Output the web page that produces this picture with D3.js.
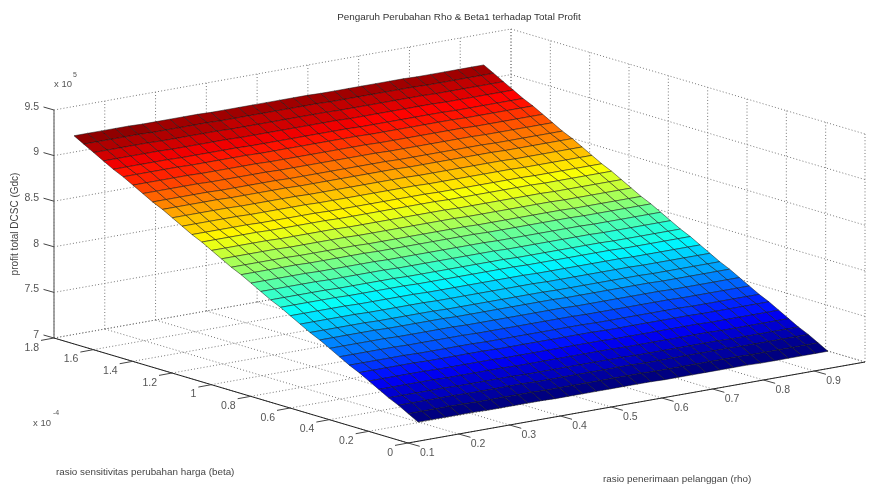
<!DOCTYPE html>
<html>
<head>
<meta charset="utf-8">
<script src="https://cdnjs.cloudflare.com/ajax/libs/d3/7.8.5/d3.min.js"></script>
<style>
  body { margin: 0; background: #fff; }
  svg { filter: blur(0.3px); }
  text { font-family: "Liberation Sans", Arial, sans-serif; }
</style>
</head>
<body>
<svg id="svg" width="875" height="484"></svg>
<script>
// axis ticks
const rhoTicks = [0.1, 0.2, 0.3, 0.4, 0.5, 0.6, 0.7, 0.8, 0.9];
const rhoGrid = [0.1, 0.2, 0.3, 0.4, 0.5, 0.6, 0.7, 0.8, 0.9, 1];
const betaTicks = [0, 0.2, 0.4, 0.6, 0.8, 1, 1.2, 1.4, 1.6, 1.8];
const profitTicks = [7, 7.5, 8, 8.5, 9, 9.5];

// surface. beta in 1e-4, profit in 1e5
const rhoValues = [
  0.12, 0.147, 0.174, 0.201, 0.228, 0.255, 0.282, 0.309, 0.336, 0.363, 0.39,
  0.417, 0.444, 0.471, 0.498, 0.525, 0.552, 0.579, 0.606, 0.633, 0.66, 0.687,
  0.714, 0.741, 0.768, 0.795, 0.822, 0.849, 0.876, 0.903, 0.927,
];
const betaValues = [
  0, 0.05, 0.1, 0.15, 0.2, 0.25, 0.3, 0.35, 0.4, 0.45, 0.5, 0.55, 0.6, 0.65,
  0.7, 0.75, 0.8, 0.85, 0.9, 0.95, 1, 1.05, 1.1, 1.15, 1.2, 1.25, 1.3, 1.35,
  1.4, 1.45, 1.5, 1.55, 1.6, 1.65, 1.7, 1.75,
];
const profitByBeta = [
  7.21, 7.27, 7.33, 7.38, 7.44, 7.5, 7.56, 7.61, 7.67, 7.73, 7.79, 7.84, 7.9,
  7.96, 8.02, 8.07, 8.13, 8.19, 8.25, 8.3, 8.36, 8.42, 8.48, 8.53, 8.59, 8.65,
  8.71, 8.76, 8.82, 8.88, 8.94, 8.99, 9.05, 9.11, 9.17, 9.23,
];
// the far side of the rho range sits a little lower on the profit axis
const profitDropByRho = [
  0, 0, 0, 0, 0, 0.005, 0.005, 0.005, 0.005, 0.005, 0.01, 0.01, 0.01, 0.01,
  0.01, 0.01, 0.01, 0.01, 0.015, 0.015, 0.015, 0.015, 0.015, 0.015, 0.015, 0.02,
  0.02, 0.02, 0.02, 0.02, 0.02,
];

const svg = d3.select("#svg");

// orthographic view: each data axis gets a scale for its screen offset
const corner = { x: 408, y: 443 };
const rhoX = d3.scaleLinear().domain([0.1, 1]).range([0, 457]);
const rhoY = d3.scaleLinear().domain([0.1, 1]).range([0, -81]);
const betaX = d3.scaleLinear().domain([0, 1.8]).range([0, -354]);
const betaY = d3.scaleLinear().domain([0, 1.8]).range([0, -105]);
const profitY = d3.scaleLinear().domain([7, 9.5]).range([0, -228]);

const project = (rho, beta, profit) => [
  corner.x + rhoX(rho) + betaX(beta),
  corner.y + rhoY(rho) + betaY(beta) + profitY(profit),
];

const line = d3.line();

// jet colormap
const jet = d3
  .scaleLinear()
  .domain([0, 0.125, 0.375, 0.625, 0.875, 1])
  .range(["#000080", "#0000ff", "#00ffff", "#ffff00", "#ff0000", "#800000"])
  .clamp(true);
const zMin = d3.min(profitByBeta) - 0.02;
const zMax = d3.max(profitByBeta);
const colorOf = (z) => {
  const t = (z - zMin) / (zMax - zMin);
  return jet(Math.floor(t * 63.999) / 63);
};

// dotted grid on the floor and the two back walls
const gridSegments = [];
betaTicks.forEach((b) => {
  gridSegments.push([project(0.1, b, 7), project(1, b, 7)]);
  gridSegments.push([project(1, b, 7), project(1, b, 9.5)]);
});
rhoGrid.forEach((r) => {
  gridSegments.push([project(r, 0, 7), project(r, 1.8, 7)]);
  gridSegments.push([project(r, 1.8, 7), project(r, 1.8, 9.5)]);
});
profitTicks.forEach((p) => {
  gridSegments.push([project(0.1, 1.8, p), project(1, 1.8, p)]);
  gridSegments.push([project(1, 1.8, p), project(1, 0, p)]);
});

svg
  .append("g")
  .selectAll("path")
  .data(gridSegments)
  .enter()
  .append("path")
  .attr("d", (d) => line(d))
  .attr("fill", "none")
  .attr("stroke", "#777")
  .attr("stroke-width", 1)
  .attr("stroke-dasharray", "1,2.2");

// surface cells, far rows first
const cells = [];
for (let i = betaValues.length - 2; i >= 0; i--) {
  for (let j = 0; j < rhoValues.length - 1; j++) {
    const z = (a, b) => profitByBeta[a] - profitDropByRho[b];
    cells.push({
      z: z(i, j),
      pts: [
        project(rhoValues[j], betaValues[i], z(i, j)),
        project(rhoValues[j + 1], betaValues[i], z(i, j + 1)),
        project(rhoValues[j + 1], betaValues[i + 1], z(i + 1, j + 1)),
        project(rhoValues[j], betaValues[i + 1], z(i + 1, j)),
      ],
    });
  }
}

svg
  .append("g")
  .selectAll("path")
  .data(cells)
  .enter()
  .append("path")
  .attr("d", (d) => line(d.pts) + "Z")
  .attr("fill", (d) => colorOf(d.z))
  .attr("stroke", "#111")
  .attr("stroke-width", 0.5);

// axis lines
const axes = svg.append("g");
axes
  .append("path")
  .attr("d", line([project(0.1, 1.8, 7), project(0.1, 1.8, 9.5)]))
  .attr("stroke", "#888")
  .attr("stroke-width", 1.5);
axes
  .append("path")
  .attr("d", line([project(0.1, 0, 7), project(0.1, 1.8, 7)]))
  .attr("stroke", "#222")
  .attr("stroke-width", 1);
axes
  .append("path")
  .attr("d", line([project(0.1, 0, 7), project(1, 0, 7)]))
  .attr("stroke", "#222")
  .attr("stroke-width", 1);

const tickColor = "#444";
const labelColor = "#555";

// profit axis
profitTicks.forEach((p) => {
  const a = project(0.1, 1.8, p);
  axes
    .append("path")
    .attr("d", line([a, [a[0] - 10.5, a[1] - 3]]))
    .attr("stroke", tickColor);
  axes
    .append("text")
    .attr("x", a[0] - 15)
    .attr("y", a[1] - 3)
    .attr("text-anchor", "end")
    .attr("font-size", 10.5)
    .attr("fill", labelColor)
    .attr("dominant-baseline", "middle")
    .text(p);
});

// beta axis
betaTicks.forEach((b) => {
  const a = project(0.1, b, 7);
  axes
    .append("path")
    .attr("d", line([a, [a[0] - 13, a[1] + 2.4]]))
    .attr("stroke", tickColor);
  axes
    .append("text")
    .attr("x", a[0] - 15)
    .attr("y", a[1] + 10)
    .attr("text-anchor", "end")
    .attr("font-size", 10.5)
    .attr("fill", labelColor)
    .attr("dominant-baseline", "middle")
    .text(b);
});

// rho axis
rhoTicks.forEach((r) => {
  const a = project(r, 0, 7);
  axes
    .append("path")
    .attr("d", line([a, [a[0] + 11.7, a[1] + 3.3]]))
    .attr("stroke", tickColor);
  axes
    .append("text")
    .attr("x", a[0] + 12)
    .attr("y", a[1] + 10.5)
    .attr("font-size", 10.5)
    .attr("fill", labelColor)
    .attr("dominant-baseline", "middle")
    .text(r);
});

// titles
const addText = (x, y, str, size, fill, anchor) =>
  svg
    .append("text")
    .attr("x", x)
    .attr("y", y)
    .attr("font-size", size)
    .attr("fill", fill)
    .attr("text-anchor", anchor || "start")
    .attr("dominant-baseline", "middle")
    .text(str);

addText(459, 17, "Pengaruh Perubahan Rho & Beta1 terhadap Total Profit", 9.9, "#333", "middle");
addText(603, 479, "rasio penerimaan pelanggan (rho)", 9.85, "#444");
addText(56, 472, "rasio sensitivitas perubahan harga (beta)", 9.85, "#444");
addText(54, 84, "x 10", 9.5, labelColor);
addText(73, 75, "5", 7, labelColor);
addText(33, 423, "x 10", 9.5, labelColor);
addText(53, 413, "-4", 7, labelColor);
addText(0, 0, "profit total DCSC (Gdc)", 10, "#444", "middle")
  .attr("transform", "translate(15,224) rotate(-90)");
</script>
</body>
</html>
